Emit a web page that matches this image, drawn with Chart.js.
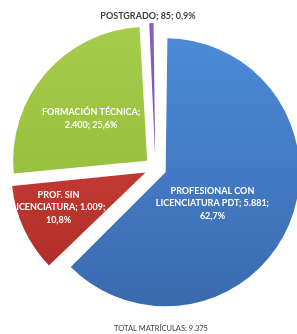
<!DOCTYPE html>
<html><head><meta charset="utf-8">
<script src="https://cdn.jsdelivr.net/npm/chart.js@4/dist/chart.umd.min.js"></script>
<style>html,body{margin:0;padding:0;background:#fff;}#wrap{width:297px;height:334px;position:relative;}</style>
</head><body><div id="wrap"><canvas id="c"></canvas></div>
<script>
// ---- data ----
const categories = ['PROFESIONAL CON LICENCIATURA PDT', 'PROF. SIN LICENCIATURA', 'FORMACIÓN TÉCNICA', 'POSTGRADO'];
const matriculas = [5881, 1009, 2400, 85];
const totalTitle = 'TOTAL MATRÍCULAS';

// ---- style / layout ----
const gradientColors = [['#4C8AD8', '#3A6AAE'], ['#D9473F', '#A92A24'], ['#A5CC4A', '#8DB836'], ['#8B5EC4', '#6D43A3']];
const labelColors = ['#FFFFFF', '#FFFFFF', '#FFFFFF', '#3F3F3F'];
const labelWrap = [125, 98, 110, 300];
const labelAnchor = [[0.425, 0.265], [-0.724, 0.293], [-0.481, -0.370], [-0.056, -1.137]];
const PIE_RADIUS = 134;
const SLICE_OFFSET = 44; // Chart.js translates arcs by offset/4

function fmtNum(v) { return String(v).replace(/\B(?=(\d{3})+(?!\d))/g, '.'); }
const total = matriculas.reduce((a, b) => a + b, 0);
function fmtPct(v) { return (Math.round(v / total * 1000) / 10).toFixed(1).replace('.', ',') + '%'; }

const radiusFix = {
  id: 'radiusFix',
  afterDatasetUpdate(chart, args) {
    args.meta.data.forEach(arc => {
      const c = arc.endAngle - arc.startAngle;
      const t = (arc.options.offset || 0) / 4;
      const fix = 1 - Math.sin(Math.min(Math.PI, c));
      arc.outerRadius -= t * fix;
    });
  }
};

function wrapWords(ctx, text, maxW) {
  const words = text.split(' ');
  const lines = [];
  let cur = '';
  words.forEach(w => {
    const test = cur ? cur + ' ' + w : w;
    if (cur && ctx.measureText(test).width > maxW) { lines.push(cur); cur = w; }
    else cur = test;
  });
  if (cur) lines.push(cur);
  return lines;
}

const labelsPlugin = {
  id: 'sliceLabels',
  afterDatasetsDraw(chart) {
    const ctx = chart.ctx;
    const meta = chart.getDatasetMeta(0);
    const R = meta.controller.outerRadius;
    ctx.save();
    ctx.font = 'bold 9px Lato';
    ctx.textAlign = 'center';
    ctx.textBaseline = 'middle';
    meta.data.forEach((arc, i) => {
      const text = categories[i] + '; ' + fmtNum(matriculas[i]) + '; ' + fmtPct(matriculas[i]);
      const lines = wrapWords(ctx, text, labelWrap[i]);
      const cx = arc.x + labelAnchor[i][0] * R;
      const cy = arc.y + labelAnchor[i][1] * R;
      const lh = 12.5;
      ctx.fillStyle = labelColors[i];
      lines.forEach((ln, k) => {
        ctx.fillText(ln, cx, cy + (k - (lines.length - 1) / 2) * lh);
      });
    });
    ctx.font = '7.5px Lato';
    ctx.fillStyle = '#404040';
    ctx.fillText(totalTitle + ': ' + fmtNum(total), chart.width / 2 + 12.5, 329);
    ctx.restore();
  }
};

new Chart(document.getElementById('c'), {
  type: 'pie',
  data: {
    labels: categories,
    datasets: [{
      data: matriculas,
      backgroundColor: (context) => {
        const chart = context.chart;
        const area = chart.chartArea;
        const cols = gradientColors[context.dataIndex];
        if (!area) return cols[0];
        const cy = (area.top + area.bottom) / 2;
        const g = chart.ctx.createLinearGradient(0, cy - PIE_RADIUS, 0, cy + PIE_RADIUS);
        g.addColorStop(0, cols[0]);
        g.addColorStop(1, cols[1]);
        return g;
      },
      borderWidth: 0,
      offset: SLICE_OFFSET,
      clip: false
    }]
  },
  options: {
    responsive: true,
    maintainAspectRatio: false,
    animation: false,
    events: [],
    radius: PIE_RADIUS,
    layout: { padding: { left: 14, top: 2, right: 0, bottom: 0 } },
    plugins: { legend: { display: false }, tooltip: { enabled: false }, title: { display: false } }
  },
  plugins: [radiusFix, labelsPlugin]
});
</script>
</body></html>
